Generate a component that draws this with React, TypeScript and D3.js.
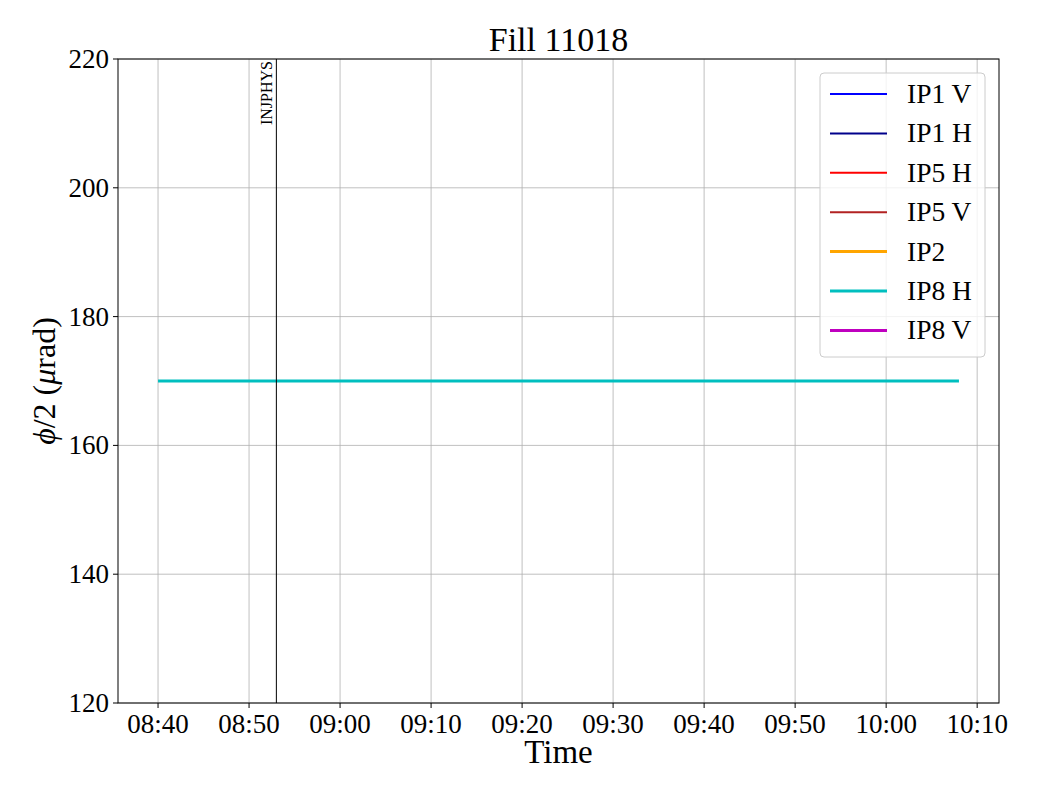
import React from "react";
import * as d3 from "d3";

const title = "Fill 11018";
const xTickLabels = ["08:40", "08:50", "09:00", "09:10", "09:20", "09:30", "09:40", "09:50", "10:00", "10:10"];
const yTicks = [120, 140, 160, 180, 200, 220];
const seriesNames = ["IP1 V", "IP1 H", "IP5 H", "IP5 V", "IP2", "IP8 H", "IP8 V"];
const seriesColors = ["#0000ff", "#00008b", "#ff0000", "#b22222", "#ffa500", "#00bfbf", "#bf00bf"];
const seriesWidths = [2, 2, 2, 2, 3, 3, 3];
// IP8 H crossing-angle values (minutes after 08:40, value)
const ip8hTimes = [0, 88];
const ip8hValues = [170, 170];
const markerLabel = "INJPHYS";
const markerTime = 13; // minutes after 08:40

const W = 1040, H = 800;
const M = { left: 118, right: 999, top: 59, bottom: 703 };
const FONT = "'Liberation Serif', 'DejaVu Serif', serif";

export default function App() {
  const base = new Date(2020, 0, 1, 8, 40);
  const t = (m: number) => new Date(base.getTime() + m * 60000);
  const x = d3.scaleTime().domain([t(-4.4), t(92.4)]).range([M.left, M.right]);
  const y = d3.scaleLinear().domain([120, 220]).range([M.bottom, M.top]);
  const xTicks = xTickLabels.map((_, i) => t(i * 10));
  const line = d3.line<[number, number]>().x(d => x(t(d[0]))).y(d => y(d[1]));
  const ip8h: [number, number][] = ip8hTimes.map((m, i) => [m, ip8hValues[i]]);
  const legendX = 820, legendY = 73, rowH = 39.4;

  return (
    <svg width={W} height={H} style={{ display: "block", position: "absolute", left: 0, top: 0 }} fontFamily={FONT}>
      <rect width={W} height={H} fill="#fff" />
      {xTicks.map((d, i) => (
        <line key={"gx" + i} x1={x(d)} x2={x(d)} y1={M.top} y2={M.bottom} stroke="#b0b0b0" strokeWidth={0.8} />
      ))}
      {yTicks.map((v, i) => (
        <line key={"gy" + i} x1={M.left} x2={M.right} y1={y(v)} y2={y(v)} stroke="#b0b0b0" strokeWidth={0.8} />
      ))}
      <path d={line(ip8h) || ""} fill="none" stroke={seriesColors[5]} strokeWidth={3} />
      <line x1={x(t(markerTime))} x2={x(t(markerTime))} y1={M.top} y2={M.bottom} stroke="#000" strokeWidth={1} />
      <text transform={`translate(${x(t(markerTime)) - 4},${M.top + 2}) rotate(-90)`} textAnchor="end" fontSize={16}>{markerLabel}</text>
      <rect x={M.left} y={M.top} width={M.right - M.left} height={M.bottom - M.top} fill="none" stroke="#000" strokeWidth={1} />
      {xTicks.map((d, i) => (
        <g key={"xt" + i}>
          <line x1={x(d)} x2={x(d)} y1={M.bottom} y2={M.bottom + 5} stroke="#000" />
          <text x={x(d)} y={M.bottom + 30} textAnchor="middle" fontSize={27}>{xTickLabels[i]}</text>
        </g>
      ))}
      {yTicks.map((v, i) => (
        <g key={"yt" + i}>
          <line x1={M.left - 5} x2={M.left} y1={y(v)} y2={y(v)} stroke="#000" />
          <text x={M.left - 9} y={y(v) + 9} textAnchor="end" fontSize={27}>{v}</text>
        </g>
      ))}
      <text x={(M.left + M.right) / 2} y={51} textAnchor="middle" fontSize={34}>{title}</text>
      <text x={(M.left + M.right) / 2} y={763} textAnchor="middle" fontSize={33}>Time</text>
      <text transform={`translate(55,${(M.top + M.bottom) / 2}) rotate(-90)`} textAnchor="middle" fontSize={32}>
        <tspan fontStyle="italic">ϕ</tspan>/2 (<tspan fontStyle="italic">μ</tspan>rad)
      </text>
      <rect x={legendX} y={legendY} width={165} height={284} rx={4} fill="#fff" fillOpacity={0.8} stroke="#cccccc" strokeWidth={1} />
      {seriesNames.map((n, i) => {
        const cy = legendY + 21 + i * rowH;
        return (
          <g key={"lg" + i}>
            <line x1={830} x2={887} y1={cy} y2={cy} stroke={seriesColors[i]} strokeWidth={seriesWidths[i]} />
            <text x={907} y={cy + 9} fontSize={27.5}>{n}</text>
          </g>
        );
      })}
    </svg>
  );
}
